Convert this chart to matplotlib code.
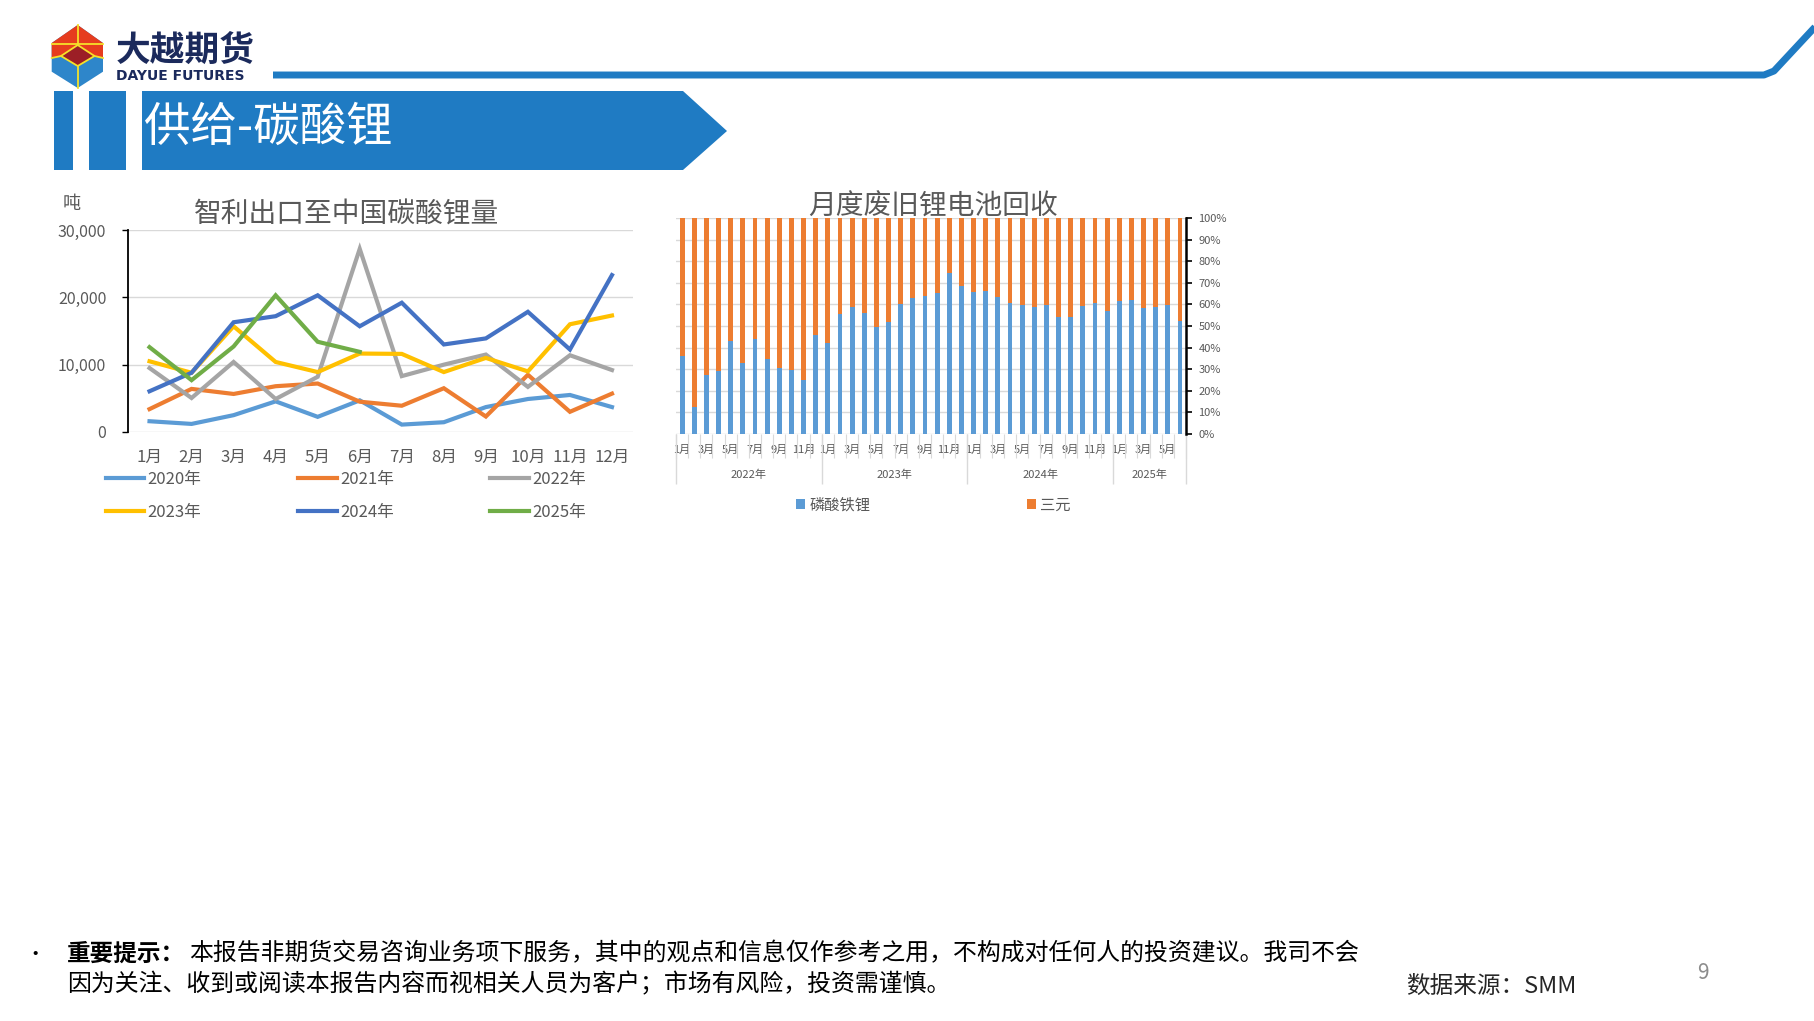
import matplotlib
matplotlib.use('Agg')
import matplotlib.pyplot as plt
from matplotlib.patches import Polygon, Rectangle
from matplotlib.ticker import FuncFormatter, FixedLocator
import matplotlib.transforms as mtransforms

plt.rcParams['font.family'] = ['Noto Sans CJK SC', 'DejaVu Sans']

# ---- data: Chile lithium carbonate exports to China (t)
months = ['1月', '2月', '3月', '4月', '5月', '6月', '7月', '8月', '9月', '10月', '11月', '12月']
exp_2020 = [1600, 1200, 2500, 4550, 2250, 4700, 1100, 1450, 3700, 4900, 5500, 3700]
exp_2021 = [3400, 6400, 5650, 6800, 7200, 4500, 3900, 6500, 2300, 8500, 3000, 5700]
exp_2022 = [9500, 5050, 10400, 4900, 8200, 27200, 8300, 10000, 11500, 6700, 11400, 9200]
exp_2023 = [10500, 8800, 15700, 10400, 8900, 11650, 11600, 8900, 11000, 9000, 16000, 17300]
exp_2024 = [6050, 8800, 16300, 17200, 20300, 15700, 19200, 13000, 13900, 17850, 12250, 23300]
exp_2025 = [12600, 7700, 12700, 20300, 13400, 11900]
year_labels = ['2020年', '2021年', '2022年', '2023年', '2024年', '2025年']
year_colors = ['#5B9BD5', '#ED7D31', '#A5A5A5', '#FFC000', '#4472C4', '#70AD47']

# ---- data: monthly spent battery recycling share (%)
rec_years = ['2022年', '2023年', '2024年', '2025年']
rec_counts = [12, 12, 12, 6]
lfp_share = [36.1, 12.5, 27.4, 29.3, 43.0, 32.8, 44.1, 34.5, 30.6, 29.7, 25.1, 45.7,
             42.3, 55.6, 59.0, 56.0, 49.5, 51.9, 60.1, 63.0, 63.9, 65.3, 74.5, 68.3,
             65.6, 66.3, 63.6, 60.5, 59.6, 58.8, 59.9, 54.3, 54.2, 59.3, 60.8, 57.0,
             61.8, 62.1, 58.2, 58.8, 59.8, 52.5]
ncm_share = [100 - v for v in lfp_share]

W, H = 1815, 1021
GRAY = '#595959'
GRID = '#D9D9D9'
BLUE = '#1F7BC3'

fig = plt.figure(figsize=(W / 100, H / 100), dpi=100)


def box(x0, y0, x1, y1):
    # pixel box (top-left origin) -> figure fraction rect
    return [x0 / W, 1 - y1 / H, (x1 - x0) / W, (y1 - y0) / H]


# ---- page decoration layer
bg = fig.add_axes([0, 0, 1, 1])
bg.set_xlim(0, W)
bg.set_ylim(H, 0)
bg.axis('off')

# logo
bg.add_patch(Polygon([(77.7, 25), (51.7, 43), (51.7, 71.7), (77.7, 88), (103, 71.7), (103, 43)],
                     closed=True, fc='#2E86CA', ec='none'))
bg.add_patch(Polygon([(77.7, 25), (51.7, 43), (51.7, 57), (103, 57), (103, 43)],
                     closed=True, fc='#E63C1E', ec='none'))
bg.add_patch(Polygon([(77.7, 45), (61, 56), (77.7, 66), (94.5, 56)],
                     closed=True, fc='#9C1F26', ec='#F5E12A', lw=1.3))
ylw = dict(color='#F5E12A', lw=1.3)
bg.plot([51.7, 103], [44.3, 44.3], **ylw)
bg.plot([77.7, 77.7], [25, 44.3], **ylw)
bg.plot([51.7, 61], [58, 56], **ylw)
bg.plot([94.5, 103], [56, 58], **ylw)
bg.plot([77.7, 77.7], [66, 88], **ylw)
bg.text(116, 50, '大越期货', fontsize=25, fontweight='bold', color='#1B2A5C', va='center', ha='left')
bg.text(116, 76, 'DAYUE FUTURES', fontsize=10, fontweight='bold', color='#1B2A5C',
        va='center', ha='left', family='DejaVu Sans')

# top rule with bend at right
bg.plot([273, 1764, 1774, 1815], [75, 75, 71, 27], color=BLUE, lw=5,
        solid_joinstyle='round', solid_capstyle='butt')

# section banner
bg.add_patch(Rectangle((54, 91), 19, 79, fc=BLUE, ec='none'))
bg.add_patch(Rectangle((89, 91), 37, 79, fc=BLUE, ec='none'))
bg.add_patch(Polygon([(142, 91), (683, 91), (727, 131), (683, 170), (142, 170)],
                     closed=True, fc=BLUE, ec='none'))
bg.text(144, 128, '供给-碳酸锂', fontsize=33.5, color='white', va='center', ha='left')

# footer
bg.text(25, 954, '•', fontsize=14, color='black', va='center', ha='left')
bg.text(67, 954, '重要提示：', fontsize=17, fontweight='bold', color='black', va='center', ha='left')
bg.text(189, 954, '本报告非期货交易咨询业务项下服务，其中的观点和信息仅作参考之用，不构成对任何人的投资建议。我司不会',
        fontsize=17.2, color='black', va='center', ha='left')
bg.text(67, 984, '因为关注、收到或阅读本报告内容而视相关人员为客户；市场有风险，投资需谨慎。',
        fontsize=17.2, color='black', va='center', ha='left')
bg.text(1406, 986, '数据来源：SMM', fontsize=17, color='#262626', va='center', ha='left')
bg.text(1703, 973, '9', fontsize=15, color='#8C8C8C', va='center', ha='center')

# ---- left chart: Chile exports
ax1 = fig.add_axes(box(128.5, 230, 633, 432))
x12 = list(range(12))
series = [exp_2020, exp_2021, exp_2022, exp_2023, exp_2024, exp_2025]
lines = []
for vals, lab, col in zip(series, year_labels, year_colors):
    ln, = ax1.plot(x12[:len(vals)], vals, color=col, lw=3, label=lab, solid_joinstyle='miter')
    lines.append(ln)
ax1.set_xlim(-0.5, 11.5)
ax1.set_ylim(0, 30000)
ax1.set_yticks([0, 10000, 20000, 30000])
ax1.yaxis.set_major_formatter(FuncFormatter(lambda v, p: f'{int(v):,}'))
ax1.set_xticks(x12)
ax1.set_xticklabels(months)
ax1.grid(axis='y', color=GRID, lw=1)
ax1.set_axisbelow(True)
for s in ['top', 'right', 'bottom']:
    ax1.spines[s].set_visible(False)
ax1.spines['left'].set_color('black')
ax1.spines['left'].set_linewidth(1.3)
ax1.tick_params(axis='y', length=4, width=1, pad=12, labelsize=11.5, labelcolor=GRAY, color='black')
ax1.tick_params(axis='x', length=0, pad=12, labelsize=12, labelcolor=GRAY)
bg.text(347, 215, '智利出口至中国碳酸锂量', fontsize=20, color=GRAY, va='center', ha='center')
bg.text(72, 204, '吨', fontsize=13, color=GRAY, va='center', ha='center')

order = [0, 3, 1, 4, 2, 5]
fig.legend([lines[i] for i in order], [year_labels[i] for i in order], ncol=3,
           loc='upper left', bbox_to_anchor=(106 / W, 1 - 471 / H), frameon=False,
           fontsize=12, labelcolor=GRAY, handlelength=2.3, handletextpad=0.2,
           columnspacing=5.8, labelspacing=0.98, borderpad=0, borderaxespad=0)

# ---- right chart: recycling share
ax2 = fig.add_axes(box(676, 218, 1186, 434))
n = len(lfp_share)
xb = list(range(n))
b1 = ax2.bar(xb, lfp_share, width=0.4, color='#5B9BD5', label='磷酸铁锂')
b2 = ax2.bar(xb, ncm_share, width=0.4, bottom=lfp_share, color='#ED7D31', label='三元')
ax2.set_xlim(-0.5, n - 0.5)
ax2.set_ylim(0, 100)
ax2.yaxis.tick_right()
ax2.set_yticks(range(0, 101, 10))
ax2.yaxis.set_major_formatter(FuncFormatter(lambda v, p: f'{int(v)}%'))
ax2.grid(axis='y', color=GRID, lw=1)
ax2.set_axisbelow(True)
for s in ['top', 'left', 'bottom']:
    ax2.spines[s].set_visible(False)
ax2.spines['right'].set_color('black')
ax2.spines['right'].set_linewidth(1.8)
ax2.tick_params(axis='y', length=4, width=1.2, pad=5, labelsize=8, labelcolor=GRAY, color='black')

# month labels every other month, separators between every bar
tick_pos, tick_lab = [], []
start = 0
for cnt in rec_counts:
    for m in range(0, cnt, 2):
        tick_pos.append(start + m)
        tick_lab.append(f'{m + 1}月')
    start += cnt
ax2.set_xticks(tick_pos)
ax2.set_xticklabels(tick_lab)
ax2.tick_params(axis='x', which='major', length=0, pad=8, labelsize=8, labelcolor=GRAY)
ax2.xaxis.set_minor_locator(FixedLocator([i - 0.5 for i in range(n + 1)]))
ax2.tick_params(axis='x', which='minor', length=17, width=0.8, color=GRID, direction='out')

trans = mtransforms.blended_transform_factory(ax2.transData, ax2.transAxes)
start = 0
bounds = [-0.5]
for yl, cnt in zip(rec_years, rec_counts):
    ax2.text(start + cnt / 2 - 0.5, -0.19, yl, transform=trans, ha='center', va='center',
             fontsize=8, color=GRAY)
    start += cnt
    bounds.append(start - 0.5)
ax2.vlines(bounds, -0.232, 0, transform=trans, colors=GRID, lw=1, clip_on=False)
bg.text(933, 207, '月度废旧锂电池回收', fontsize=20, color=GRAY, va='center', ha='center')

fig.legend([b1, b2], ['磷酸铁锂', '三元'], ncol=2, loc='center left',
           bbox_to_anchor=(796 / W, 1 - 505 / H), frameon=False, fontsize=11,
           labelcolor=GRAY, handlelength=0.6, handleheight=0.6, handletextpad=0.3,
           columnspacing=10.2, borderpad=0, borderaxespad=0)

fig.savefig('out.png', dpi=100)
